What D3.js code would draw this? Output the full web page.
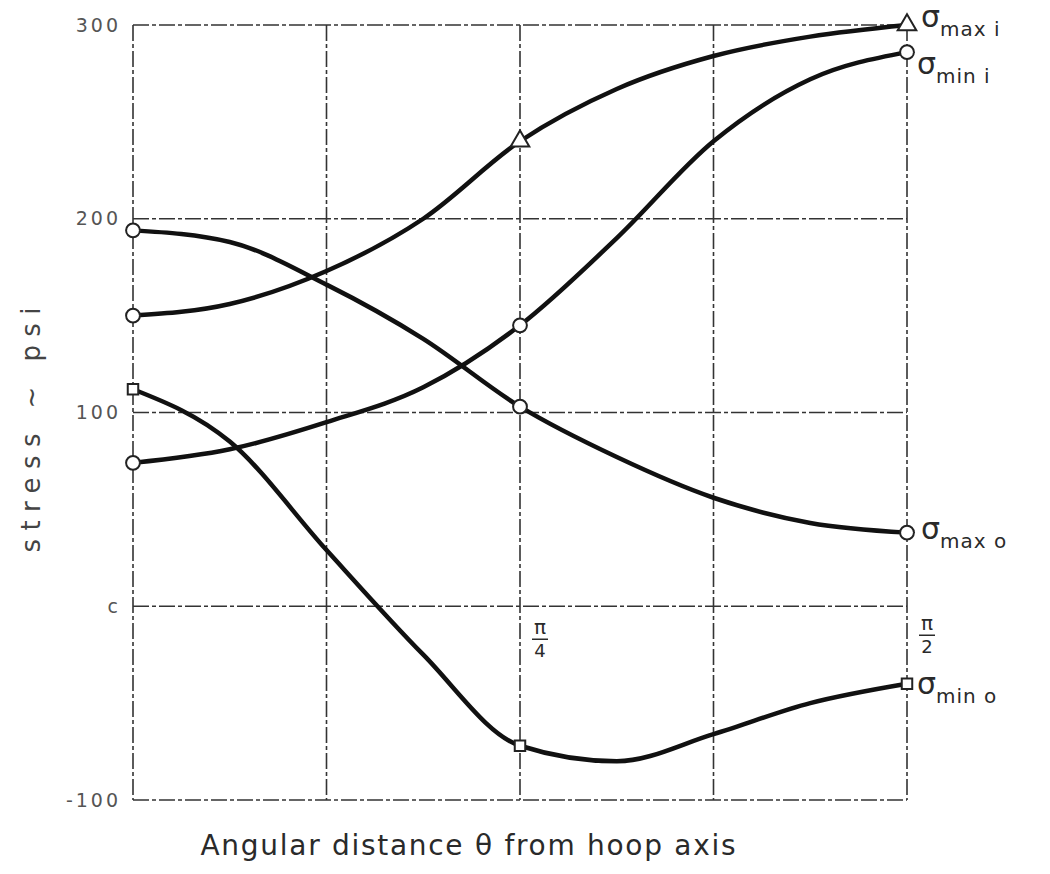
<!DOCTYPE html>
<html>
<head>
<meta charset="utf-8">
<script src="https://cdn.jsdelivr.net/npm/d3@7"></script>
<style>
  body { margin: 0; background: #fff; }
  svg text { font-family: "DejaVu Sans", sans-serif; fill: #2a2a2a; }
</style>
</head>
<body>
<div id="chart"></div>
<script>
// angle positions, in fractions of pi (half grid steps)
var angles = [0, 1/16, 2/16, 3/16, 4/16, 5/16, 6/16, 7/16, 8/16];
var markerIdx = [0, 4, 8];

// stress values (psi)
var sigmaMaxI = [150, 156, 173, 200, 240, 267, 284, 294, 300];
var sigmaMinI = [74, 81, 95, 113, 145, 190, 240, 272, 286];
var sigmaMaxO = [194, 188, 166, 138, 103, 77, 56, 43, 38];
var sigmaMinO = [112, 85, 29, -25, -72, -80, -66, -50, -40];

var yTicks = [-100, 0, 100, 200, 300];
var yTickLabels = ['-100', 'c', '100', '200', '300'];
var xGrid = [0, 1/8, 2/8, 3/8, 4/8];

var series = [
  { sub: 'max i', values: sigmaMaxI, marker: 'triangle', firstMarker: 'circle', dx: 14, dy: 2 },
  { sub: 'min i', values: sigmaMinI, marker: 'circle', dx: 10, dy: 22 },
  { sub: 'max o', values: sigmaMaxO, marker: 'circle', dx: 14, dy: 6 },
  { sub: 'min o', values: sigmaMinO, marker: 'square', dx: 10, dy: 10 }
];

var width = 1050, height = 874;
var pad = { left: 133, right: 143, top: 25, bottom: 74 };

var svg = d3.select('#chart').append('svg')
  .attr('width', width)
  .attr('height', height);

var x = d3.scaleLinear()
  .domain([0, Math.PI / 2])
  .range([pad.left, width - pad.right]);

var y = d3.scaleLinear()
  .domain([-100, 300])
  .range([height - pad.bottom, pad.top]);

// dashed grid (hand ruled look)
var dash = '16,3,4,3';
svg.append('g').selectAll('line.h')
  .data(yTicks)
  .enter().append('line')
  .attr('x1', x(0)).attr('x2', x(Math.PI / 2))
  .attr('y1', function(d){ return y(d); })
  .attr('y2', function(d){ return y(d); })
  .attr('stroke', '#333')
  .attr('stroke-width', 1.6)
  .attr('stroke-dasharray', dash);

svg.append('g').selectAll('line.v')
  .data(xGrid)
  .enter().append('line')
  .attr('x1', function(d){ return x(d * Math.PI); })
  .attr('x2', function(d){ return x(d * Math.PI); })
  .attr('y1', y(300)).attr('y2', y(-100))
  .attr('stroke', '#333')
  .attr('stroke-width', 1.6)
  .attr('stroke-dasharray', dash);

// y tick labels
svg.append('g').selectAll('text')
  .data(yTicks)
  .enter().append('text')
  .attr('x', pad.left - 12)
  .attr('y', function(d){ return y(d); })
  .attr('dy', '0.35em')
  .attr('text-anchor', 'end')
  .style('font-size', '19px')
  .style('letter-spacing', '3px')
  .style('fill', '#555')
  .text(function(d, i){ return yTickLabels[i]; });

// curves
var line = d3.line()
  .x(function(d){ return x(d.a); })
  .y(function(d){ return y(d.v); })
  .curve(d3.curveMonotoneX);

series.forEach(function(s){
  var pts = angles.map(function(a, i){ return { a: a * Math.PI, v: s.values[i] }; });

  svg.append('path')
    .attr('d', line(pts))
    .attr('fill', 'none')
    .attr('stroke', '#111')
    .attr('stroke-width', 4.5)
    .attr('stroke-linecap', 'round');

  markerIdx.forEach(function(k, j){
    var type = (j === 0 && s.firstMarker) ? s.firstMarker : s.marker;
    var sym = type === 'triangle' ? d3.symbolTriangle : type === 'square' ? d3.symbolSquare : d3.symbolCircle;
    var size = type === 'triangle' ? 150 : type === 'square' ? 110 : 150;
    svg.append('path')
      .attr('d', d3.symbol().type(sym).size(size)())
      .attr('transform', 'translate(' + x(pts[k].a) + ',' + y(pts[k].v) + ')')
      .attr('fill', '#fff')
      .attr('stroke', '#222')
      .attr('stroke-width', 2);
  });

  // end label
  var last = pts[pts.length - 1];
  var t = svg.append('text')
    .attr('x', x(last.a) + s.dx)
    .attr('y', y(last.v) + s.dy);
  t.append('tspan').style('font-size', '30px').text('σ');
  t.append('tspan').attr('dy', 9).style('font-size', '20px').style('letter-spacing', '1px').text(s.sub);
});

// pi fraction labels
function piLabel(cx, cy, den){
  var g = svg.append('g').attr('transform', 'translate(' + cx + ',' + cy + ')');
  g.append('text').attr('text-anchor', 'middle').attr('y', 0).style('font-size', '20px').text('π');
  g.append('line').attr('x1', -8).attr('x2', 8).attr('y1', 5).attr('y2', 5)
    .attr('stroke', '#2a2a2a').attr('stroke-width', 1.5);
  g.append('text').attr('text-anchor', 'middle').attr('y', 23).style('font-size', '18px').text(den);
}
piLabel(x(Math.PI / 4) + 20, y(0) + 28, '4');
piLabel(x(Math.PI / 2) + 20, y(0) + 24, '2');

// axis titles
svg.append('text')
  .attr('x', 468)
  .attr('y', 855)
  .attr('text-anchor', 'middle')
  .attr('textLength', 535)
  .style('font-size', '28px')
  .text('Angular distance θ from hoop axis');

svg.append('text')
  .attr('transform', 'translate(40,430) rotate(-90)')
  .attr('text-anchor', 'middle')
  .attr('textLength', 245)
  .style('font-size', '26px')
  .style('fill', '#444')
  .text('stress ~ psi');
</script>
</body>
</html>
